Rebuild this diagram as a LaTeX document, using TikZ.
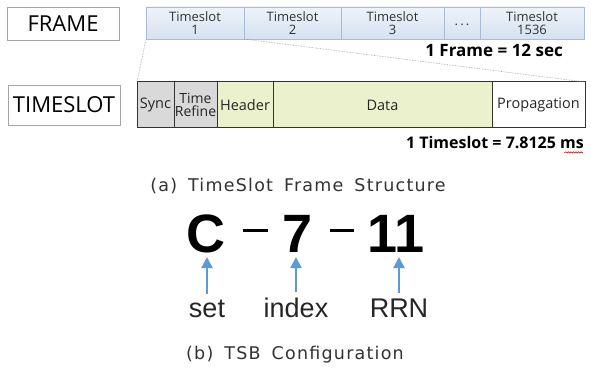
\documentclass[tikz,border=0pt]{standalone}
\usepackage{fontspec}
\setmainfont{Liberation Sans}
\newfontfamily\msfont{Open Sans}
\newfontfamily\capfont[LetterSpace=7]{DejaVu Sans}
\usetikzlibrary{arrows.meta,decorations.pathmorphing}
\definecolor{slotfillA}{HTML}{EEF3FA}
\definecolor{slotfillB}{HTML}{D5E1F1}
\definecolor{slotline}{HTML}{A9BCD6}
\definecolor{grayfill}{HTML}{D9D9D9}
\definecolor{yelfill}{HTML}{EBF1CC}
\definecolor{arrblue}{HTML}{5B9BD5}
\newcommand{\fsz}[1]{\fontsize{#1}{#1}\selectfont}
\newcommand{\wsp}{\hspace{11pt}}
\tikzset{
  labelbox/.style={draw=black!35, line width=0.8pt, fill=white, minimum width=112pt, minimum height=33pt, anchor=north west, inner sep=0pt, outer sep=0pt, font=\msfont\fsz{22}},
  fslot/.style={draw=slotline, line width=0.6pt, top color=slotfillA, bottom color=slotfillB, minimum height=32pt, anchor=north west, inner sep=0pt, outer sep=0pt, align=center, font=\msfont\fontsize{13}{13}\selectfont, text=black!80},
  tslot/.style={draw=black!80, line width=1pt, minimum height=46pt, anchor=north west, inner sep=0pt, outer sep=0pt, align=center, font=\msfont\fsz{14.5}, text=black!85},
  boldnote/.style={anchor=east, inner sep=0pt, font=\msfont\bfseries\fsz{16}},
  bigchar/.style={anchor=base, inner sep=0pt, font=\bfseries\fsz{54}},
  smlabel/.style={anchor=base, inner sep=0pt, font=\fsz{27}, text=black!85},
  captxt/.style={inner sep=0pt, font=\capfont\fsz{17.5}, text=black!80},
  arr/.style={draw=arrblue, line width=2pt, -{Triangle[length=11pt,width=11pt]}},
  zoomline/.style={draw=black!40, line width=0.6pt, densely dotted}
}
\begin{document}
\begin{tikzpicture}[x=1pt,y=-1pt]
\useasboundingbox (0,0) rectangle (591,371);
\fill[white] (0,0) rectangle (591,371);
% FRAME row
\node[labelbox] (frame) at (7,7) {FRAME};
\node[fslot, minimum width=98pt] (s1) at (146,7) {Timeslot\\1};
\node[fslot, minimum width=97pt] (s2) at (244,7) {Timeslot\\2};
\node[fslot, minimum width=103pt] (s3) at (341,7) {Timeslot\\3};
\node[fslot, minimum width=36pt] (sd) at (444,7) {\raisebox{-6pt}{.\,.\,.}};
\node[fslot, minimum width=104pt] (s1536) at (480,7) {Timeslot\\1536};
\node[boldnote, font=\msfont\bfseries\fsz{17}] (fnote) at (563,50) {1 Frame = 12 sec};
% TIMESLOT row
\node[labelbox, minimum height=40pt] (tslab) at (8,85) {TIMESLOT};
\node[tslot, fill=grayfill, minimum width=37pt] (sync) at (137,82) {Sync};
\node[tslot, fill=grayfill, minimum width=43pt, font=\msfont\fontsize{14}{13}\selectfont] (tref) at (174,82) {Time\\Refine};
\node[tslot, fill=yelfill, minimum width=56pt] (head) at (217,82) {Header};
\node[tslot, fill=yelfill, minimum width=219pt] (data) at (273,82) {Data};
\node[tslot, fill=white, minimum width=93pt] (prop) at (492,82) {Propagation};
\node[boldnote] (tnote) at (584,143) {1 Timeslot = 7.8125 ms};
\draw[red!80!black, line width=0.5pt, decorate, decoration={snake, amplitude=0.6pt, segment length=2.5pt}] (tnote.south east) ++(-1,3) -- ++(-19,0);
% zoom lines
\draw[zoomline] (s1.south west) -- (sync.north west);
\draw[zoomline] (s1.south east) -- (prop.north east);
% caption a
\node[captxt] (capa) at (298,186) {(a)\wsp TimeSlot\wsp Frame\wsp Structure};
% TSB configuration
\node[bigchar] (C) at (206,252) {C};
\node[bigchar] (d1) at (255,252) {\raisebox{20pt}{\rule{25pt}{2.6pt}}};
\node[bigchar] (seven) at (298,252) {7};
\node[bigchar] (d2) at (342,252) {\raisebox{20pt}{\rule{24pt}{2.6pt}}};
\node[bigchar] (eleven) at (396,252) {11};
\node[smlabel] (set) at (207,317) {set};
\node[smlabel] (index) at (296,317) {index};
\node[smlabel] (rrn) at (399,317) {RRN};
\draw[arr] ([yshift=5pt]set.north) -- ([yshift=-5pt]set.north |- C.base);
\draw[arr] ([yshift=5pt]index.north) -- ([yshift=-5pt]index.north |- seven.base);
\draw[arr] ([yshift=5pt]rrn.north) -- ([yshift=-5pt]rrn.north |- eleven.base);
% caption b
\node[captxt] (capb) at (295,355) {(b)\wsp TSB\wsp Configuration};
\end{tikzpicture}
\end{document}
